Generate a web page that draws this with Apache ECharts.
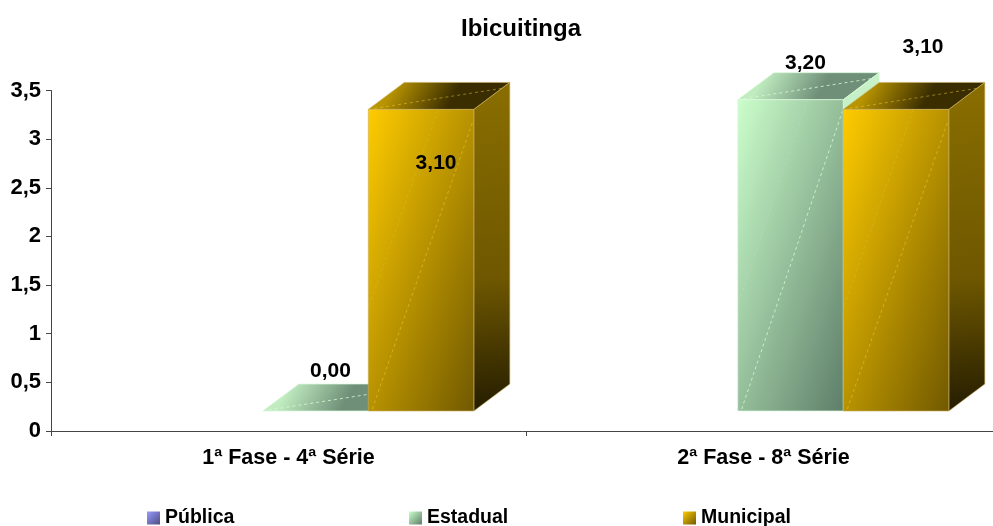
<!DOCTYPE html>
<html>
<head>
<meta charset="utf-8">
<style>html,body{margin:0;padding:0;background:#fff}#c{width:993px;height:526px}</style>
<script src="https://cdn.jsdelivr.net/npm/echarts@6/dist/echarts.min.js"></script>
</head>
<body>
<div id="c"></div>
<script>
const categories = ['1ª Fase - 4ª Série', '2ª Fase - 8ª Série'];
const publica = [null, null];
const estadual = [0, 3.2];
const municipal = [3.1, 3.1];
const seriesNames = ['Pública', 'Estadual', 'Municipal'];

// Projection of the 3D look (pixels)
const SHIFT_X = 27, SHIFT_Y = -20, DEPTH_X = 36, DEPTH_Y = -27;
const GAP_WIDTH = 1.5;
// Hand-placed value label offsets from the front-top centre of each bar
const labelOffsets = {
  1: [[15, -40], [15, -36]],
  2: [[15, 54], [27, -62]]
};
const palettes = [
  {front:['#9999FF','#4d4d80'], top:['#8a8ae6','#4d4d80'], side:['#66669a','#50507a','#26263f'], edge:'rgba(200,200,255,.6)', dash:'rgba(200,200,255,.6)'},
  {front:['#CCFFCC','#5d7d68'], top:['#c0ecc0','#6f8f78'], side:['#c8f2c8','#b5e0bc','#a5d0ad'], edge:'rgba(220,250,220,.7)', dash:'rgba(215,250,215,.8)'},
  {front:['#FFCC00','#705800'], top:['#b89400','#3a2d00'], side:['#8a6e00','#6e5700','#241c00'], edge:'rgba(200,175,95,.6)', dash:'rgba(255,215,60,.45)'}
];
const grad = (c) => ({type:'linear', x:0, y:0, x2:1, y2:1, colorStops:[{offset:0,color:c[0]},{offset:1,color:c[1]}]});
// Gradient whose iso-lines run along the box's other diagonal (top-right to bottom-left)
const faceGrad = (c, w, h) => {
  const d = w * w + h * h;
  return {type:'linear', x:0, y:0, x2:2 * h * h / d, y2:2 * w * w / d,
    colorStops:[{offset:0,color:c[0]},{offset:1,color:c[1]}]};
};
const topGrad = (c) => ({type:'linear', x:0.2, y:0, x2:0.55, y2:1, colorStops:[{offset:0,color:c[0]},{offset:1,color:c[1]}]});
const sideGrad = (c) => ({type:'linear', x:0, y:0, x2:0.6, y2:1, colorStops:[{offset:0,color:c[0]},{offset:0.6,color:c[1]},{offset:1,color:c[2]}]});

function renderBar(sIdx) {
  const pal = palettes[sIdx];
  return function (params, api) {
    const v = api.value(1);
    if (v === null || v === undefined || isNaN(v)) return {type:'group', children:[]};
    const i = api.value(0);
    const band = api.size([1, 0])[0];
    const w = band / (3 + GAP_WIDTH);
    const p0 = api.coord([i, 0]), p1 = api.coord([i, v]);
    const x0 = p0[0] + SHIFT_X + (sIdx - 1.5) * w;
    const x1 = x0 + w;
    const yB = p0[1] + SHIFT_Y, yT = p1[1] + SHIFT_Y;
    const h = yB - yT;
    const poly = (pts, fill, stroke) => ({type:'polygon', shape:{points:pts}, style:{fill, stroke: stroke || pal.edge, lineWidth:1}});
    const dash = (a, b, col) => ({type:'line', shape:{x1:a[0],y1:a[1],x2:b[0],y2:b[1]}, style:{stroke:col||pal.dash, lineWidth:1, lineDash:[3,3], fill:null}});
    const children = [];
    children.push(poly([[x0,yT],[x0+DEPTH_X,yT+DEPTH_Y],[x1+DEPTH_X,yT+DEPTH_Y],[x1,yT]], topGrad(pal.top)));
    children.push(dash([x0+6,yT-1],[x1+DEPTH_X-2,yT+DEPTH_Y+5]));
    if (h > 0) {
      children.push(poly([[x1,yT],[x1+DEPTH_X,yT+DEPTH_Y],[x1+DEPTH_X,yB+DEPTH_Y],[x1,yB]], sideGrad(pal.side)));
      children.push({type:'rect', shape:{x:x0,y:yT,width:w,height:h}, style:{fill:faceGrad(pal.front, w, h), stroke:pal.edge, lineWidth:1}});
      children.push(dash([x0+4,yB-2],[x1-1,yT+12]));
      children.push(dash([x0+1,yT+h*0.65],[x0+w*0.66,yT+1],'rgba(255,255,255,.10)'));
    }
    const off = labelOffsets[sIdx] ? labelOffsets[sIdx][i] : [0,0];
    children.push({type:'text', z2:100, style:{
      text:v.toFixed(2).replace('.',','), x:x0+w/2+off[0], y:yT+off[1],
      align:'center', verticalAlign:'middle', fill:'#000',
      font:'bold 21px "Liberation Sans", Arial, sans-serif'}});
    return {type:'group', children};
  };
}

const values = [publica, estadual, municipal];
const legendFont = {color:'#000', fontFamily:'"Liberation Sans", Arial, sans-serif', fontWeight:'bold', fontSize:19.5};
const legendAt = [147, 409, 683];

const chart = echarts.init(document.getElementById('c'), null, {renderer:'canvas'});
chart.setOption({
  animation:false,
  backgroundColor:'#fff',
  title:{text:'Ibicuitinga', left:516, top:12, textAlign:'center',
    textStyle:{color:'#000', fontFamily:'"Liberation Sans", Arial, sans-serif', fontWeight:'bold', fontSize:24}},
  grid:{left:51, top:90.5, width:950, height:340.5, containLabel:false, outerBoundsMode:'none'},
  legend: seriesNames.map((n, k) => ({
    data:[n], left:legendAt[k], top:508, orient:'horizontal', icon:'rect',
    itemWidth:13, itemHeight:13, itemGap:6, selectedMode:false, padding:0, textStyle:legendFont
  })),
  xAxis:{type:'category', data:categories, boundaryGap:true,
    axisLine:{show:true, lineStyle:{color:'#444', width:1}},
    axisTick:{show:true, length:5, lineStyle:{color:'#444'}},
    axisLabel:{color:'#000', fontFamily:'"Liberation Sans", Arial, sans-serif', fontWeight:'bold', fontSize:21.5, margin:16},
    splitLine:{show:false}},
  yAxis:{type:'value', min:0, max:3.5, interval:0.5,
    axisLine:{show:true, lineStyle:{color:'#444', width:1}},
    axisTick:{show:true, length:5, lineStyle:{color:'#444'}},
    axisLabel:{color:'#000', fontFamily:'"Liberation Sans", Arial, sans-serif', fontWeight:'bold', fontSize:22, margin:10,
      formatter:(v)=>String(v).replace('.',',')},
    splitLine:{show:false}},
  series: seriesNames.map((n, k) => ({
    name:n, type:'custom', clip:false, z:2+k,
    renderItem:renderBar(k),
    encode:{x:0, y:1},
    itemStyle:{color:grad(palettes[k].front)},
    data:values[k].map((v, i) => [i, v])
  }))
});
</script>
</body>
</html>
